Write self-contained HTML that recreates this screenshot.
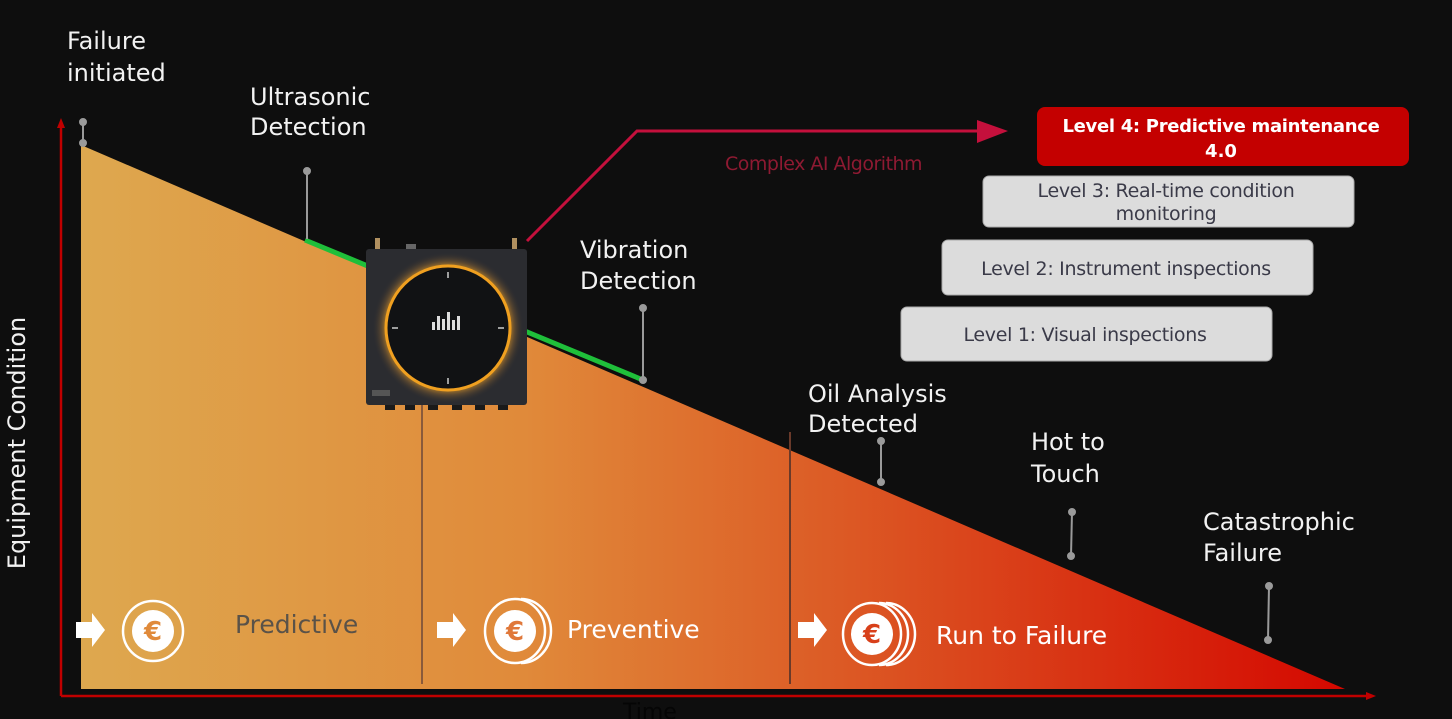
<!DOCTYPE html>
<html><head><meta charset="utf-8"><style>
html,body{margin:0;padding:0;background:#0e0e0e;}
svg{display:block}
</style></head><body>
<svg width="1452" height="719" viewBox="0 0 1452 719" xmlns="http://www.w3.org/2000/svg" font-family="'DejaVu Sans', 'Liberation Sans', sans-serif">
<defs>
<linearGradient id="g" x1="81" y1="0" x2="1345" y2="0" gradientUnits="userSpaceOnUse">
<stop offset="0" stop-color="#dea84f"/>
<stop offset="0.35" stop-color="#e08a3a"/>
<stop offset="0.6" stop-color="#dc5a25"/>
<stop offset="1" stop-color="#d40800"/>
</linearGradient>
<radialGradient id="glow" cx="0.5" cy="0.5" r="0.5">
<stop offset="0.78" stop-color="#f5a623" stop-opacity="0.9"/>
<stop offset="0.88" stop-color="#7a5a30" stop-opacity="0.6"/>
<stop offset="1" stop-color="#2a2a2c" stop-opacity="0"/>
</radialGradient>
</defs>
<rect width="1452" height="719" fill="#0e0e0e"/>
<polygon points="81,145 1345,689 81,689" fill="url(#g)"/>
<line x1="61" y1="696" x2="1370" y2="696" stroke="#c00000" stroke-width="2.5"/>
<polygon points="1376,696 1366,692 1366,700" fill="#c00000"/>
<line x1="61" y1="696" x2="61" y2="126" stroke="#c00000" stroke-width="2.5"/>
<polygon points="61,118 57,128 65,128" fill="#c00000"/>
<line x1="305" y1="240" x2="643" y2="380" stroke="#1fbf3a" stroke-width="5"/>
<line x1="422" y1="400" x2="422" y2="684" stroke="#8a5a3a" stroke-width="2"/>
<line x1="790" y1="432" x2="790" y2="684" stroke="#6a3a2a" stroke-width="2"/>
<g stroke="#9a9a9a" stroke-width="2" fill="#9a9a9a">
<line x1="83" y1="122" x2="83" y2="143"/><circle cx="83" cy="122" r="3"/><circle cx="83" cy="143" r="3"/>
<line x1="307" y1="171" x2="307" y2="239"/><circle cx="307" cy="171" r="3"/>
<line x1="643" y1="308" x2="643" y2="380"/><circle cx="643" cy="308" r="3"/><circle cx="643" cy="380" r="3"/>
<line x1="881" y1="441" x2="881" y2="482"/><circle cx="881" cy="441" r="3"/><circle cx="881" cy="482" r="3"/>
<line x1="1072" y1="512" x2="1071" y2="556"/><circle cx="1072" cy="512" r="3"/><circle cx="1071" cy="556" r="3"/>
<line x1="1269" y1="586" x2="1268" y2="640"/><circle cx="1269" cy="586" r="3"/><circle cx="1268" cy="640" r="3"/>
</g>
<polyline points="527,241 637,131 985,131" fill="none" stroke="#c4103c" stroke-width="3"/>
<polygon points="1008,131 977,120 977,143" fill="#c4103c"/>
<text x="725" y="170" font-size="19" fill="#8e1a32" letter-spacing="-0.5">Complex AI Algorithm</text>
<g>
<rect x="375" y="238" width="5" height="12" fill="#b09060"/>
<rect x="512" y="238" width="5" height="12" fill="#b09060"/>
<rect x="406" y="244" width="10" height="6" fill="#666"/>
<rect x="366" y="249" width="161" height="156" rx="3" fill="#2b2c30"/>
<circle cx="448" cy="328" r="76" fill="url(#glow)"/>
<circle cx="448" cy="328" r="62" fill="#111214" stroke="#f0a020" stroke-width="3"/>
<g stroke="#ccc" stroke-width="1.5">
<line x1="448" y1="272" x2="448" y2="278"/><line x1="448" y1="378" x2="448" y2="384"/>
<line x1="392" y1="328" x2="398" y2="328"/><line x1="498" y1="328" x2="504" y2="328"/>
</g>
<g fill="#ddd"><rect x="432" y="322" width="3" height="8"/><rect x="437" y="316" width="3" height="14"/><rect x="442" y="319" width="3" height="11"/><rect x="447" y="312" width="3" height="18"/><rect x="452" y="320" width="3" height="10"/><rect x="457" y="316" width="3" height="14"/></g>
<rect x="372" y="390" width="18" height="6" fill="#555"/>
<g fill="#1a1a1a"><rect x="385" y="405" width="10" height="5"/><rect x="405" y="405" width="10" height="5"/><rect x="428" y="405" width="10" height="5"/><rect x="452" y="405" width="10" height="5"/><rect x="475" y="405" width="10" height="5"/><rect x="498" y="405" width="10" height="5"/></g>
</g>
<g font-size="24" fill="#f2f2f2">
<text x="67" y="49">Failure</text><text x="67" y="81">initiated</text>
<text x="250" y="105">Ultrasonic</text><text x="250" y="135">Detection</text>
<text x="580" y="258">Vibration</text><text x="580" y="289">Detection</text>
<text x="808" y="402">Oil Analysis</text><text x="808" y="432">Detected</text>
<text x="1031" y="450">Hot to</text><text x="1031" y="482">Touch</text>
<text x="1203" y="530">Catastrophic</text><text x="1203" y="561">Failure</text>
</g>
<text transform="translate(25,443) rotate(-90)" text-anchor="middle" font-size="24" fill="#f2f2f2">Equipment Condition</text>
<text x="623" y="719" font-size="22" fill="#050505">Time</text>
<rect x="1037" y="107" width="372" height="59" rx="8" fill="#c40000"/>
<text x="1221" y="132" text-anchor="middle" font-size="18" font-weight="bold" fill="#fff" letter-spacing="-0.3">Level 4: Predictive maintenance</text>
<text x="1221" y="157" text-anchor="middle" font-size="18" font-weight="bold" fill="#fff">4.0</text>
<g fill="#dcdcdc" stroke="#aaa" stroke-width="1">
<rect x="983" y="176" width="371" height="51" rx="6"/>
<rect x="942" y="240" width="371" height="55" rx="6"/>
<rect x="901" y="307" width="371" height="54" rx="6"/>
</g>
<g font-size="19" fill="#3a3a48" text-anchor="middle" letter-spacing="-0.3">
<text x="1166" y="197">Level 3: Real-time condition</text>
<text x="1166" y="220">monitoring</text>
<text x="1126" y="275">Level 2: Instrument inspections</text>
<text x="1085" y="341">Level 1: Visual inspections</text>
</g>
<g fill="#fff">
<polygon points="76,622 92,622 92,613 105,630 92,647 92,638 76,638"/>
<polygon points="437,622 453,622 453,613 466,630 453,647 453,638 437,638"/>
<polygon points="798,622 814,622 814,613 827,630 814,647 814,638 798,638"/>
</g>
<g fill="none" stroke="#fff" stroke-width="2.5">
<circle cx="153" cy="631" r="30"/>
<ellipse cx="515" cy="631" rx="30" ry="32"/><path d="M521,599 A30,32 0 0 1 521,663"/>
<ellipse cx="872" cy="634" rx="29" ry="31"/><path d="M879,603 A29,31 0 0 1 879,665"/><path d="M886,603 A29,31 0 0 1 886,665"/>
</g>
<g fill="#fff"><circle cx="153" cy="631" r="21"/><circle cx="515" cy="631" r="21"/><circle cx="872" cy="634" r="21"/></g>
<g font-size="26" font-weight="bold" text-anchor="middle" fill="#e08a3a">
<text x="153" y="640">€</text><text x="515" y="640" fill="#e0783a">€</text><text x="872" y="643" fill="#d8401a">€</text>
</g>
<g font-size="25">
<text x="235" y="633" fill="#5a5248">Predictive</text>
<text x="567" y="638" fill="#fff">Preventive</text>
<text x="936" y="644" fill="#fff">Run to Failure</text>
</g>
</svg>
</body></html>
